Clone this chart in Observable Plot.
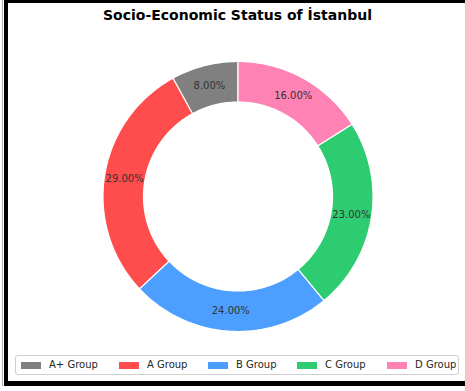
<!DOCTYPE html>
<html>
<head>
<meta charset="utf-8">
<script src="https://cdn.jsdelivr.net/npm/d3@7"></script>
<script src="https://cdn.jsdelivr.net/npm/@observablehq/plot@0.6"></script>
<style>
  html, body { margin: 0; padding: 0; background: #fff; overflow: hidden; }
  body { width: 465px; height: 391px; position: relative; overflow: hidden; font-family: "DejaVu Sans", sans-serif; }
  #edge { position: absolute; left: 2px; top: 0; width: 1px; height: 386px; background: #b0b0b0; }
  #frame { position: absolute; left: 4px; top: 0; width: 600px; height: 378px; border-left: 4px solid #000; border-top: 3px solid #000; border-bottom: 5px solid #000; box-sizing: content-box; }
  #title { position: absolute; left: 0; width: 475px; top: 7px; text-align: center; font-weight: bold; font-size: 14px; color: #000; }
  #chart { position: absolute; left: 0; top: 0; }
  #legend { position: absolute; left: 15px; top: 355px; width: 442px; height: 18px; border: 1px solid #d0d0d0; border-radius: 3px; background: #fff; }
  .item { position: absolute; top: 0; height: 18px; font-size: 10px; line-height: 18px; color: #262626; white-space: nowrap; }
  .sw { position: absolute; left: 0; top: 5.5px; width: 20px; height: 7px; }
  .lb { position: absolute; left: 28px; top: 0; }
</style>
</head>
<body>
<div id="edge"></div>
<div id="frame"></div>
<div id="chart"></div>
<div id="title">Socio-Economic Status of İstanbul</div>
<div id="legend"></div>
<script>
const groups = ["A+ Group", "A Group", "B Group", "C Group", "D Group"];
const shares = [8, 29, 24, 23, 16];
const colors = ["#808080", "#ff4c4c", "#4c9fff", "#2ecc71", "#ff82b4"];
const legendX = [5, 103, 192, 281, 371];

const inner = 0.7, outer = 1.0, labelR = 0.85, startAngle = 90;
const total = d3.sum(shares);

// slice polygons in data space (unit circle), counter-clockwise from top
const pts = [];
const labels = [];
let a = startAngle;
groups.forEach((g, i) => {
  const a0 = a, a1 = a + shares[i] / total * 360;
  const n = Math.max(8, Math.ceil((a1 - a0) / 1));
  for (let k = 0; k <= n; k++) {
    const t = (a0 + (a1 - a0) * k / n) * Math.PI / 180;
    pts.push({group: g, x: outer * Math.cos(t), y: outer * Math.sin(t)});
  }
  for (let k = n; k >= 0; k--) {
    const t = (a0 + (a1 - a0) * k / n) * Math.PI / 180;
    pts.push({group: g, x: inner * Math.cos(t), y: inner * Math.sin(t)});
  }
  const t0 = a0 * Math.PI / 180;
  pts.push({group: g, x: outer * Math.cos(t0), y: outer * Math.sin(t0)});
  const tm = (a0 + a1) / 2 * Math.PI / 180;
  labels.push({group: g, x: labelR * Math.cos(tm), y: labelR * Math.sin(tm), text: shares[i].toFixed(2) + "%"});
  a = a1;
});

const W = 465, H = 350;
const cx = 237.5, cy = 196, R = 135;
const chart = Plot.plot({
  width: W,
  height: H,
  marginLeft: cx - R,
  marginRight: W - (cx + R),
  marginTop: cy - R,
  marginBottom: H - (cy + R),
  x: {domain: [-1, 1], axis: null},
  y: {domain: [-1, 1], axis: null},
  color: {domain: groups, range: colors},
  style: {background: "transparent", fontFamily: "DejaVu Sans, sans-serif", overflow: "visible"},
  marks: [
    Plot.line(pts, {x: "x", y: "y", z: "group", fill: "group", stroke: "white", strokeWidth: 1.2, strokeLinejoin: "round"}),
    Plot.text(labels, {x: "x", y: "y", text: "text", fill: "#333", fontSize: 10})
  ]
});
document.getElementById("chart").appendChild(chart);

const leg = document.getElementById("legend");
groups.forEach((g, i) => {
  const it = document.createElement("div");
  it.className = "item";
  it.style.left = legendX[i] + "px";
  it.innerHTML = `<span class="sw" style="background:${colors[i]}"></span><span class="lb">${g}</span>`;
  leg.appendChild(it);
});
</script>
</body>
</html>
